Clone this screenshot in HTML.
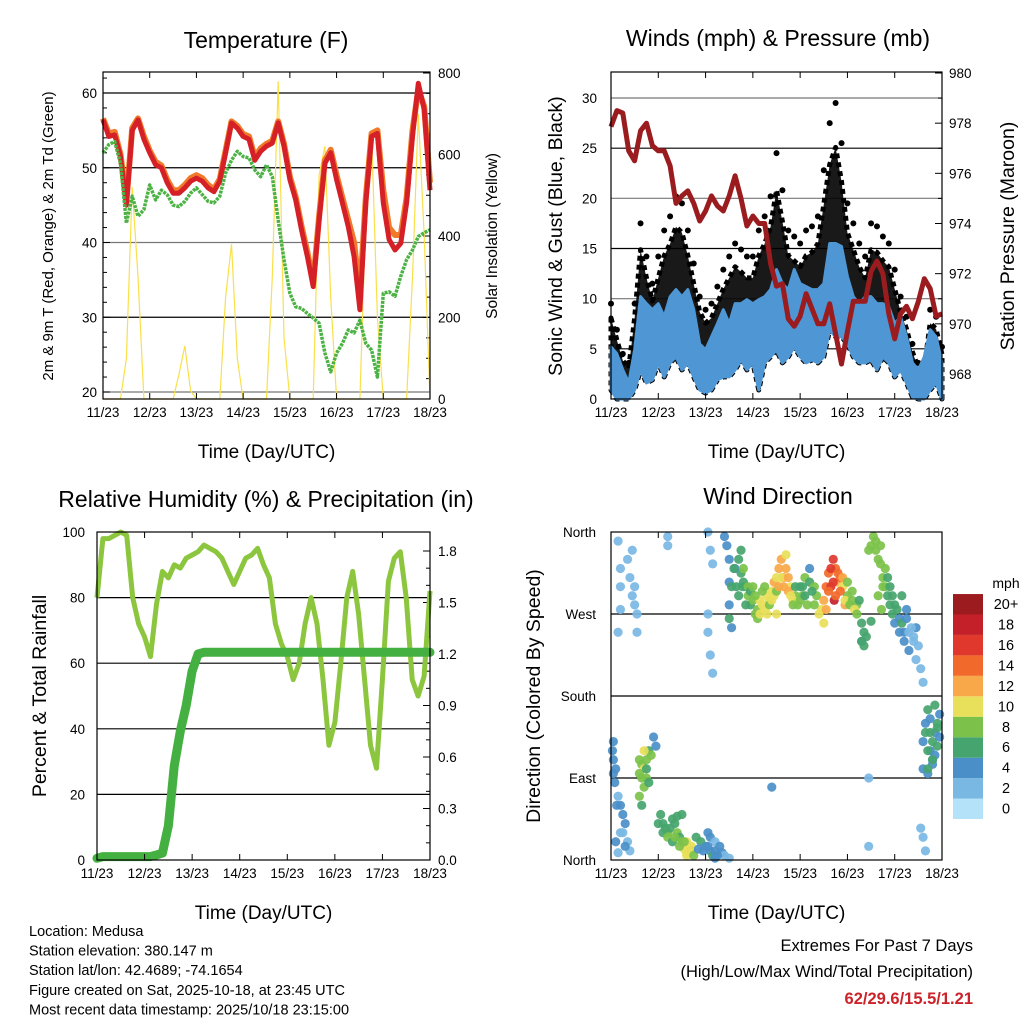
<!DOCTYPE html>
<html><head><meta charset="utf-8"><style>
body{margin:0;background:#fff;}
svg{display:block;font-family:"Liberation Sans",sans-serif;}
</style></head><body>
<svg id="c" width="1024" height="1024" viewBox="0 0 1024 1024" xmlns="http://www.w3.org/2000/svg"></svg>
<script>
// ---- data (3-hourly samples, index i -> day i/8 after 11/23) ----
const dayLabels = ["11/23","12/23","13/23","14/23","15/23","16/23","17/23","18/23"];
const tempRed = [56.4,54.2,54.4,51.5,45,55,56.4,53.8,52,50.4,50,48,46.6,46.6,47.3,48.2,48.6,48.2,47.3,46.8,48.2,52,56,55.3,54.2,53.8,51,52.2,52.9,53.3,56,52.9,48.4,45.7,41.7,38.1,34.1,43,50.6,52,48.4,45.3,42.1,38.1,31,45.3,54.2,54.6,45.3,40.4,39,39.9,45.3,54.2,61.3,57.8,47];
const tempOrange = [56.6,54.6,54.8,51.8,45.5,55.3,56.6,54.2,52.3,50.8,50.3,48.4,47,47,47.7,48.6,49,48.6,47.7,47.1,48.5,52.3,56.2,55.6,54.5,54.2,51.4,52.6,53.2,53.6,56.2,53.2,48.8,46.1,42.2,38.7,34.6,43.5,51,52.4,49,46,43,40,33,46,54.6,55,47,42,41,41,46,55,60.5,58.2,48];
const dewGreen = [52,53.1,53.5,50.6,42.6,46.2,43.5,44.4,47.7,45.7,47,46.4,45,44.8,45.5,46.6,47.3,46.4,45.5,45.3,46.2,49.3,51,52.2,51.5,51.3,49.7,48.8,50.4,48.8,43,37.7,33.2,31.4,31.2,30.5,29.9,29.2,25.2,22.7,25.2,26.5,28.3,27.9,29.6,26.5,25.6,22,33.2,33.4,32.8,35.5,37.7,39,40.8,41.3,41.7];
const solar = [0,0,0,0,100,520,300,0, 0,0,0,0,0,60,130,20, 0,0,0,0,0,250,380,100, 0,0,0,0,0,300,780,150, 0,0,0,0,0,550,620,250, 0,0,0,0,0,450,650,200, 0,0,0,0,0,300,700,400,0];
const pressure = [977.86,978.5,978.4,976.9,976.5,977.7,978,977.1,976.9,976.9,976.3,974.8,975.1,975.3,974.8,974.1,974.5,975.1,974.7,974.5,975.1,975.9,975,973.9,974.3,974,974,972.4,971.5,971.6,970.2,969.9,970.3,971.2,970.6,970,970,970.8,969.6,968.4,969.7,970.9,970.9,970.9,972.1,972.5,972,970.4,969.4,970.4,970.7,970.2,970.9,971.8,971.4,970.3,970.4];
const windHigh = [5.2,4.5,2.9,1.6,4.9,10.2,9.5,8.9,9.5,8.2,10.2,10.9,10.2,10.9,8.9,5.5,4.9,6.2,7.5,8.9,7.5,9.5,9.5,9.9,9.5,9.9,10.2,10.9,12.9,11.5,10.9,12.9,11.5,11.2,10.9,10.9,11.5,15.5,15.5,15.2,12.2,10.2,9.5,10.2,10.2,9.5,9.5,9.2,7.5,8.2,6.2,3.6,2.9,4.2,6.9,6.2,3.6];
const windLow = [0.9,0,0,0,0.9,2.9,1.6,1.9,3.6,2.2,3.6,4.2,2.9,3.6,2.2,0.9,0.6,0.9,1.9,2.2,2.2,2.9,3.9,2.9,3.6,0.9,3.6,4.2,4.9,3.6,4.2,5.2,4.2,3.6,3.9,3.6,4.2,6.9,6.2,6.2,5.5,4.2,3.6,3.6,3.9,2.9,4.2,3.6,2.2,2.9,1.6,0.2,0,0,0.9,1.6,0];
const gustHigh = [9.5,6.9,4.5,3.6,9.5,17.5,14.2,11.5,14.2,16.8,18.2,20.2,19.5,16.8,13.5,10.2,8.9,9.5,11.2,12.9,14.2,15.5,14.9,14.2,14.2,16.8,18.2,20.2,24.5,20.8,16.8,16.2,15.5,16.8,17.2,18.2,22.8,27.5,29.5,25.5,19.5,17.5,15.5,14.2,17.5,17.2,16.2,15.5,12.9,10.2,8.2,5.5,3.6,3.6,8.9,8.2,5.2];
const rh = [80,98,98,99,100,99,80,72,68,62,78,88,86,90,89,92,93,94,96,95,94,92,88,84,88,92,93,95,90,86,72,66,62,55,60,72,80,72,55,35,42,60,80,88,75,55,35,28,55,85,92,94,80,55,50,56,82];
const rain = [0.01,0.02,0.02,0.02,0.02,0.02,0.02,0.02,0.02,0.02,0.03,0.04,0.2,0.55,0.75,0.9,1.1,1.2,1.21,1.21,1.21,1.21,1.21,1.21,1.21,1.21,1.21,1.21,1.21,1.21,1.21,1.21,1.21,1.21,1.21,1.21,1.21,1.21,1.21,1.21,1.21,1.21,1.21,1.21,1.21,1.21,1.21,1.21,1.21,1.21,1.21,1.21,1.21,1.21,1.21,1.21,1.21];
// wind direction scatter: day, degrees, speed (mph)
const dirDay = [0.15,0.2,0.2,0.15,0.35,0.4,0.45,0.5,0.5,0.55,0.45,0.55,0.2,1.2,1.2,
0.03,0.05,0.05,0.08,0.15,0.2,0.25,0.3,0.2,0.1,0.15,0.35,0.4,0.6,0.65,0.7,0.75,0.8,0.85,0.7,0.65,0.6,0.75,0.9,0.95,
1.05,1.1,1.15,1.2,1.25,1.3,1.35,1.4,1.45,1.5,1.55,1.6,1.65,1.7,1.8,1.9,2.0,2.1,2.15,2.2,1.5,1.4,1.6,1.7,
2.05,2.1,2.2,2.3,2.35,2.4,2.5,2.05,2.1,2.15,2.05,2.05,2.1,2.15,
2.4,2.45,2.5,2.5,2.55,2.5,2.5,2.55,2.7,2.75,2.8,2.85,2.9,2.95,3.0,3.05,3.1,3.15,3.2,3.3,3.4,3.45,3.5,3.55,3.6,3.7,3.8,3.9,3.95,4.0,4.1,4.2,4.3,4.35,4.45,4.5,4.55,4.6,4.7,4.75,4.8,4.9,5.0,5.1,5.2,5.3,5.35,5.45,5.5,5.55,5.6,5.7,5.75,5.8,5.85,5.9,5.95,6.0,6.1,6.2,6.3,6.4,6.5,6.55,6.6,
3.25,3.35,3.65,3.75,3.85,4.65,4.72,4.85,4.95,5.65,5.72,2.78,2.62,3.5,4.05,5.4,5.5,6.15,6.25,6.45,
6.6,6.65,6.7,6.75,6.8,6.85,6.9,6.95,6.6,6.7,6.8,6.9,6.75,6.85,
5.45,6.55,6.6,5.45,6.65,3.4,5.3,6.45,
2.6,2.65,2.7,2.75,2.8,2.85,2.9,2.95,3.0,3.05,3.1,3.15,3.2,3.25,3.3,3.35,3.4,3.45,3.5,3.55,3.6,3.65,3.7,3.75,3.8,3.85,3.9,4.0,4.05,4.1,4.15,4.2,4.25,4.3,4.4,4.5,4.55,4.6,4.65,4.7,4.75,4.8,4.85,4.9,4.95,5.0,5.05,5.1,5.15,5.2,5.25,5.3,5.35,5.6,5.65,5.7,5.75,5.8,5.85,5.9,5.95,6.0,6.05,6.1,6.15,6.2,6.25,6.3,6.35,6.4,
0.05,0.1,0.12,0.25,0.3,0.6,0.65,0.7,0.75,0.8,1.0,1.1,1.2,1.3,1.35,1.45,1.55,1.6,1.65,1.75,1.85,1.95,2.05,2.2,2.25,
6.65,6.7,6.75,6.8,6.85,6.9,6.95,6.7,6.8];
const dirDeg = [350,320,300,250,330,310,290,300,280,270,340,250,275,355,345,
120,110,95,85,70,60,50,40,30,20,8,20,10,110,105,100,110,120,115,80,60,70,90,135,125,
50,40,35,30,35,45,40,30,25,20,12,8,15,10,25,20,15,10,5,2,50,48,20,15,
30,25,20,15,8,5,2,360,340,325,270,250,225,205,
355,345,330,305,300,280,265,255,330,315,305,300,290,280,285,270,275,285,280,290,295,305,310,320,330,320,300,290,280,300,310,305,300,290,275,285,300,315,330,320,305,300,290,295,280,260,250,340,345,355,340,325,310,300,290,280,270,260,250,240,230,245,235,210,195,
300,285,310,295,285,300,285,310,280,290,275,300,320,270,290,245,262,290,275,255,
130,150,165,120,110,140,150,160,100,95,105,125,140,170,
90,35,25,15,10,80,240,220,
320,300,290,340,320,280,300,295,300,290,265,270,295,275,270,280,285,290,295,300,310,300,335,310,290,280,300,285,300,290,280,320,295,280,270,260,275,295,320,305,290,315,295,310,285,305,280,285,275,270,285,240,235,350,330,345,300,320,310,300,290,280,275,265,260,250,265,250,255,240,
130,100,60,30,15,95,90,120,100,85,40,30,25,20,25,15,20,5,8,5,12,10,15,10,5,
140,120,155,130,115,145,135,100,110];
const dirSpd = [1,1,1,1,1,1,1,1,1,1,1,1,1,1,1,
4,3,4,3,2,3,4,3,2,3,2,1,2,7,8,10,7,6,8,7,6,8,7,3,3,
6,5,6,7,6,5,6,7,6,8,9,10,10,8,6,5,4,3,5,4,6,6,9,10,
3,3,2,3,3,2,2,1,1,1,1,1,1,1,
4,4,3,4,5,4,5,3,6,5,6,5,7,6,7,8,7,9,9,10,9,11,10,12,11,12,10,8,7,6,7,6,7,8,9,12,13,14,16,14,12,10,7,8,7,6,5,7,7,8,7,8,7,8,6,6,5,4,4,3,3,2,2,1,1,
8,9,11,12,10,15,17,13,11,8,7,5,4,10,7,6,5,5,3,3,
4,4,5,4,3,4,5,4,3,4,4,5,6,5,
1,1,1,1,1,3,4,2,
5,6,6,5,7,6,7,6,8,7,8,9,8,10,9,8,10,9,8,11,10,12,10,11,9,7,6,7,6,5,7,4,6,8,9,10,12,13,15,16,14,13,14,11,9,7,8,7,9,8,6,6,5,7,8,7,8,7,6,5,6,5,6,4,5,3,3,2,2,2,
4,3,3,2,3,8,7,9,6,6,5,6,7,6,8,8,7,10,9,7,4,4,3,3,4,
5,6,4,5,4,5,4,6,5];
const cbLabels = ["0","2","4","6","8","10","12","14","16","18","20+"];
const cbColors = ["#b4e2f8","#7ab8e4","#4a8fc8","#46a56e","#7cc24a","#e8e05a","#f8a848","#f26a2b","#e0382c","#c4202a","#9b1b1e"];

// ---- helpers ----
const NS="http://www.w3.org/2000/svg";
const svg=document.getElementById('c');
function mk(tag,attrs,parent){const e=document.createElementNS(NS,tag);for(const k in attrs)e.setAttribute(k,attrs[k]);(parent||svg).appendChild(e);return e;}
function txt(s,x,y,size,anchor,rot,fill,weight){const t=mk('text',{x:x,y:y,'font-size':size,'text-anchor':anchor||'middle',fill:fill||'#000'});if(weight)t.setAttribute('font-weight',weight);if(rot)t.setAttribute('transform','rotate('+rot+' '+x+' '+y+')');t.textContent=s;return t;}
function linScale(d0,d1,r0,r1){return v=>r0+(v-d0)*(r1-r0)/(d1-d0);}
function pts(arr,sx,sy){return arr.map((v,i)=>sx(i/8).toFixed(1)+','+sy(v).toFixed(1)).join(' ');}

function panel(name){
  const g=mk('g',{});
  
  
  return g;
}
function frame(g,x0,x1,y0,y1,sx){
  const r=mk('rect',{x:x0,y:y0,width:x1-x0,height:y1-y0,fill:'none',stroke:'#000','stroke-width':1.2},g);
  
  
  for(let d=0;d<=7;d++){
    const x=sx(d);
    mk('line',{x1:x,x2:x,y1:y1,y2:y1-6,stroke:'#000'},g);
    mk('line',{x1:x,x2:x,y1:y0,y2:y0+6,stroke:'#000'},g);
    const t=txt(dayLabels[d],x,y1+18,13.5,'middle',0,'#000');
    
    
  }
  const xl=txt('Time (Day/UTC)',(x0+x1)/2,y1+59,19);
  
  
}
function hgrid(g,x0,x1,y,col){mk('line',{x1:x0,x2:x1,y1:y,y2:y,stroke:col||'#000','stroke-width':1.2},g);}

// ===== Panel 1: Temperature =====
(function(){
  const X0=103,X1=430,Y0=72,Y1=399;
  const g=panel('temperature-panel');
  const sx=linScale(0,7,X0,X1), sy=linScale(20,60,392,93), sr=linScale(0,800,399,73);
  [20,30,40,50,60].forEach(v=>{hgrid(g,X0,X1,sy(v),v==20||v==40?'#777':'#000');const t=txt(String(v),X0-6,sy(v)+5,13.5,'end');});
  for(let v=0;v<=800;v+=200){const t=txt(String(v),X1+8,sr(v)+5,13.5,'start');}
  for(let v=0;v<=800;v+=50){mk('line',{x1:X1,x2:X1-(v%200?4:7),y1:sr(v),y2:sr(v),stroke:'#000'},g);}
  for(let v=20;v<=62;v+=2){mk('line',{x1:X0,x2:X0+(v%10?4:7),y1:sy(v),y2:sy(v),stroke:'#000'},g);}
  const so=mk('polyline',{points:pts(solar,sx,sr),fill:'none',stroke:'#f9e04a','stroke-width':1.2},g);
  
  
  const o=mk('polyline',{points:pts(tempOrange,sx,sy),fill:'none',stroke:'#f07a2a','stroke-width':6,'stroke-linejoin':'round'},g);
  
  
  const r=mk('polyline',{points:pts(tempRed,sx,sy),fill:'none',stroke:'#d42026','stroke-width':5,'stroke-linejoin':'round'},g);
  
  
  const d=mk('polyline',{points:pts(dewGreen,sx,sy),fill:'none',stroke:'#4cb244','stroke-width':3.5,'stroke-dasharray':'3 1','stroke-linejoin':'round'},g);
  
  
  frame(g,X0,X1,Y0,Y1,sx);
  const t=txt('Temperature (F)',266,48,23);
  const yl=txt('2m & 9m T (Red, Orange) & 2m Td (Green)',53,236,15,'middle',-90);
  const y2=txt('Solar Insolation (Yellow)',497,236,15.5,'middle',-90);
})();

// ===== Panel 2: Winds & Pressure =====
(function(){
  const X0=611,X1=942,Y0=72,Y1=399;
  const g=panel('winds-panel');
  const sx=linScale(0,7,X0,X1), sy=linScale(0,30,399,98), sp=linScale(968,980,374,73);
  [5,10,15,20,25,30].forEach(v=>hgrid(g,X0,X1,sy(v),v%10?'#000':'#777'));
  for(let v=0;v<=30;v+=5){const t=txt(String(v),X0-14,sy(v)+5,13.5,'end');}
  for(let v=968;v<=980;v+=2){const t=txt(String(v),X1+7,sp(v)+5,13.5,'start');}
  for(let v=967;v<=980;v+=1){mk('line',{x1:X1,x2:X1-(v%2?4:7),y1:sp(v),y2:sp(v),stroke:'#000'},g);}
  let gp=gustHigh.map((v,i)=>sx(i/8)+','+sy(v*0.85)).join(' ')+' '+windLow.map((v,i)=>sx(i/8)+','+sy(v)).reverse().join(' ');
  const gb=mk('polygon',{points:gp,fill:'#000','fill-opacity':0.9,stroke:'#000','stroke-width':5,'stroke-dasharray':'5 4','stroke-linejoin':'round'},g);
  
  
  gustHigh.forEach((v,i)=>{const c=mk('circle',{cx:sx(i/8),cy:sy(v),r:3,fill:'#000'},g);
    
    });
  let wp=windHigh.map((v,i)=>sx(i/8)+','+sy(v)).join(' ')+' '+windLow.map((v,i)=>sx(i/8)+','+sy(v)).reverse().join(' ');
  const wb=mk('polygon',{points:wp,fill:'#4f97d4',stroke:'#4f97d4','stroke-width':3,'stroke-linejoin':'round'},g);
  
  
  const p=mk('polyline',{points:pts(pressure,sx,sp),fill:'none',stroke:'#9b1c1f','stroke-width':5,'stroke-linejoin':'round'},g);
  
  
  frame(g,X0,X1,Y0,Y1,sx);
  const t=txt('Winds (mph) & Pressure (mb)',778,46,23);
  const yl=txt('Sonic Wind & Gust (Blue, Black)',562,236,19.5,'middle',-90);
  const y2=txt('Station Pressure (Maroon)',1014,236,19.5,'middle',-90);
})();

// ===== Panel 3: RH & precip =====
(function(){
  const X0=97,X1=430,Y0=532,Y1=860;
  const g=panel('humidity-panel');
  const sx=linScale(0,7,X0,X1), sy=linScale(0,100,860,532), sr=linScale(0,1.8,860,551);
  [20,40,60,80].forEach(v=>hgrid(g,X0,X1,sy(v)));
  for(let v=0;v<=100;v+=20){const t=txt(String(v),X0-12,sy(v)+5,13.5,'end');}
  ['0.0','0.3','0.6','0.9','1.2','1.5','1.8'].forEach((s,i)=>{const v=i*0.3;mk('line',{x1:X1,x2:X1-7,y1:sr(v),y2:sr(v),stroke:'#000'},g);const t=txt(s,X1+8,sr(v)+5,13.5,'start');});
  for(let v=0.1;v<1.9;v+=0.1){mk('line',{x1:X1,x2:X1-4,y1:sr(v),y2:sr(v),stroke:'#000'},g);}
  const h=mk('polyline',{points:pts(rh,sx,sy),fill:'none',stroke:'#8cc63f','stroke-width':5,'stroke-linejoin':'round'},g);
  
  
  const r=mk('polyline',{points:pts(rain,sx,sr),fill:'none',stroke:'#45b042','stroke-width':9,'stroke-linejoin':'round','stroke-linecap':'round'},g);
  
  
  frame(g,X0,X1,Y0,Y1,sx);
  const t=txt('Relative Humidity (%) & Precipitation (in)',266,507,23);
  const yl=txt('Percent & Total Rainfall',46,696,19.5,'middle',-90);
})();

// ===== Panel 4: Wind direction =====
(function(){
  const X0=611,X1=942,Y0=532,Y1=860;
  const g=panel('wind-direction-panel');
  const sx=linScale(0,7,X0,X1), sy=linScale(0,360,860,532);
  [90,180,270].forEach(v=>hgrid(g,X0,X1,sy(v)));
  ['North','East','South','West','North'].forEach((s,i)=>{const t=txt(s,X0-15,sy(i*90)+5,13.5,'end');});
  dirDay.forEach((d,i)=>{const k=Math.min(10,Math.max(0,Math.round(dirSpd[i]/2)));
    const c=mk('circle',{cx:sx(d),cy:sy(dirDeg[i]),r:4.6,fill:cbColors[k],'fill-opacity':0.92},g);
    
    });
  frame(g,X0,X1,Y0,Y1,sx);
  const t=txt('Wind Direction',778,504,23);
  const yl=txt('Direction (Colored By Speed)',540,696,19.5,'middle',-90);
  const cg=mk('g',{});
  
  
  const ct=txt('mph',1006,588,14,'middle');
  cbColors.forEach((c,i)=>{const y=819-(i+1)*20.45;
    const r=mk('rect',{x:953,y:y,width:30,height:20.45,fill:c},cg);
    
    
    const l=txt(cbLabels[i],1006,y+15,14.5,'middle');
    
    });
})();

// ===== footer text =====
["Location: Medusa","Station elevation: 380.147 m","Station lat/lon: 42.4689; -74.1654","Figure created on Sat, 2025-10-18, at 23:45 UTC","Most recent data timestamp: 2025/10/18 23:15:00"].forEach((s,i)=>{
  const t=txt(s,29,936+i*19.6,14.5,'start');
  
  
});
const e1=txt('Extremes For Past 7 Days',973,951,16.5,'end');


const e2=txt('(High/Low/Max Wind/Total Precipitation)',973,977,16.5,'end');


const e3=txt('62/29.6/15.5/1.21',973,1004,16.5,'end','0','#cc2229','bold');


</script>
</body></html>
